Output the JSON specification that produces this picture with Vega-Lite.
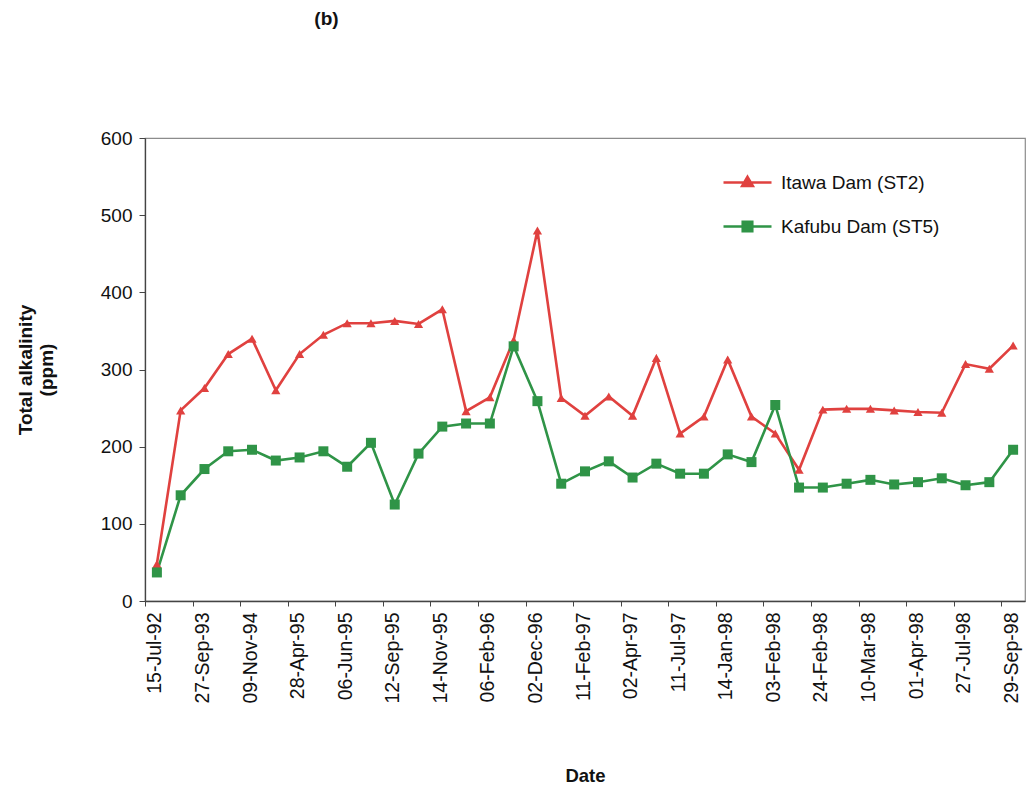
{
  "$schema": "https://vega.github.io/schema/vega-lite/v6.json",
  "width": 880,
  "height": 463,
  "autosize": {"type": "none"},
  "padding": {"left": 145, "top": 138, "right": 2, "bottom": 190},
  "background": "white",
  "config": {
    "font": "Liberation Sans",
    "view": {"stroke": "#8c8c8c", "strokeWidth": 1.2}
  },
  "title": {
    "text": "(b)",
    "anchor": "start",
    "dx": 298,
    "offset": 100,
    "fontSize": 19,
    "fontWeight": "bold",
    "color": "#111111"
  },
  "data": {
    "values": [
      {"Date": "15-Jul-92", "Site": "Itawa Dam (ST2)", "Alkalinity": 48},
      {"Date": "18-Mar-93", "Site": "Itawa Dam (ST2)", "Alkalinity": 247},
      {"Date": "27-Sep-93", "Site": "Itawa Dam (ST2)", "Alkalinity": 276},
      {"Date": "25-Jan-95", "Site": "Itawa Dam (ST2)", "Alkalinity": 320},
      {"Date": "09-Nov-94", "Site": "Itawa Dam (ST2)", "Alkalinity": 340},
      {"Date": "17-May-95", "Site": "Itawa Dam (ST2)", "Alkalinity": 273},
      {"Date": "28-Apr-95", "Site": "Itawa Dam (ST2)", "Alkalinity": 320},
      {"Date": "26-Jul-95", "Site": "Itawa Dam (ST2)", "Alkalinity": 345},
      {"Date": "06-Jun-95", "Site": "Itawa Dam (ST2)", "Alkalinity": 360},
      {"Date": "17-Oct-95", "Site": "Itawa Dam (ST2)", "Alkalinity": 360},
      {"Date": "12-Sep-95", "Site": "Itawa Dam (ST2)", "Alkalinity": 363},
      {"Date": "12-Dec-95", "Site": "Itawa Dam (ST2)", "Alkalinity": 359},
      {"Date": "14-Nov-95", "Site": "Itawa Dam (ST2)", "Alkalinity": 378},
      {"Date": "09-Jan-96", "Site": "Itawa Dam (ST2)", "Alkalinity": 246},
      {"Date": "06-Feb-96", "Site": "Itawa Dam (ST2)", "Alkalinity": 264},
      {"Date": "27-Aug-96", "Site": "Itawa Dam (ST2)", "Alkalinity": 338},
      {"Date": "02-Dec-96", "Site": "Itawa Dam (ST2)", "Alkalinity": 480},
      {"Date": "14-Jan-97", "Site": "Itawa Dam (ST2)", "Alkalinity": 263},
      {"Date": "11-Feb-97", "Site": "Itawa Dam (ST2)", "Alkalinity": 240},
      {"Date": "11-Mar-97", "Site": "Itawa Dam (ST2)", "Alkalinity": 265},
      {"Date": "02-Apr-97", "Site": "Itawa Dam (ST2)", "Alkalinity": 240},
      {"Date": "05-Jun-97", "Site": "Itawa Dam (ST2)", "Alkalinity": 315},
      {"Date": "11-Jul-97", "Site": "Itawa Dam (ST2)", "Alkalinity": 217},
      {"Date": "16-Oct-97", "Site": "Itawa Dam (ST2)", "Alkalinity": 239},
      {"Date": "14-Jan-98", "Site": "Itawa Dam (ST2)", "Alkalinity": 313},
      {"Date": "27-Jan-98", "Site": "Itawa Dam (ST2)", "Alkalinity": 239},
      {"Date": "03-Feb-98", "Site": "Itawa Dam (ST2)", "Alkalinity": 217},
      {"Date": "10-Feb-98", "Site": "Itawa Dam (ST2)", "Alkalinity": 170},
      {"Date": "24-Feb-98", "Site": "Itawa Dam (ST2)", "Alkalinity": 248},
      {"Date": "03-Mar-98", "Site": "Itawa Dam (ST2)", "Alkalinity": 249},
      {"Date": "10-Mar-98", "Site": "Itawa Dam (ST2)", "Alkalinity": 249},
      {"Date": "18-Mar-98", "Site": "Itawa Dam (ST2)", "Alkalinity": 247},
      {"Date": "01-Apr-98", "Site": "Itawa Dam (ST2)", "Alkalinity": 245},
      {"Date": "28-May-98", "Site": "Itawa Dam (ST2)", "Alkalinity": 244},
      {"Date": "27-Jul-98", "Site": "Itawa Dam (ST2)", "Alkalinity": 307},
      {"Date": "26-Aug-98", "Site": "Itawa Dam (ST2)", "Alkalinity": 301},
      {"Date": "29-Sep-98", "Site": "Itawa Dam (ST2)", "Alkalinity": 331},
      {"Date": "15-Jul-92", "Site": "Kafubu Dam (ST5)", "Alkalinity": 37},
      {"Date": "18-Mar-93", "Site": "Kafubu Dam (ST5)", "Alkalinity": 137},
      {"Date": "27-Sep-93", "Site": "Kafubu Dam (ST5)", "Alkalinity": 171},
      {"Date": "25-Jan-95", "Site": "Kafubu Dam (ST5)", "Alkalinity": 194},
      {"Date": "09-Nov-94", "Site": "Kafubu Dam (ST5)", "Alkalinity": 196},
      {"Date": "17-May-95", "Site": "Kafubu Dam (ST5)", "Alkalinity": 182},
      {"Date": "28-Apr-95", "Site": "Kafubu Dam (ST5)", "Alkalinity": 186},
      {"Date": "26-Jul-95", "Site": "Kafubu Dam (ST5)", "Alkalinity": 194},
      {"Date": "06-Jun-95", "Site": "Kafubu Dam (ST5)", "Alkalinity": 174},
      {"Date": "17-Oct-95", "Site": "Kafubu Dam (ST5)", "Alkalinity": 205},
      {"Date": "12-Sep-95", "Site": "Kafubu Dam (ST5)", "Alkalinity": 125},
      {"Date": "12-Dec-95", "Site": "Kafubu Dam (ST5)", "Alkalinity": 191},
      {"Date": "14-Nov-95", "Site": "Kafubu Dam (ST5)", "Alkalinity": 226},
      {"Date": "09-Jan-96", "Site": "Kafubu Dam (ST5)", "Alkalinity": 230},
      {"Date": "06-Feb-96", "Site": "Kafubu Dam (ST5)", "Alkalinity": 230},
      {"Date": "27-Aug-96", "Site": "Kafubu Dam (ST5)", "Alkalinity": 330},
      {"Date": "02-Dec-96", "Site": "Kafubu Dam (ST5)", "Alkalinity": 259},
      {"Date": "14-Jan-97", "Site": "Kafubu Dam (ST5)", "Alkalinity": 152},
      {"Date": "11-Feb-97", "Site": "Kafubu Dam (ST5)", "Alkalinity": 168},
      {"Date": "11-Mar-97", "Site": "Kafubu Dam (ST5)", "Alkalinity": 181},
      {"Date": "02-Apr-97", "Site": "Kafubu Dam (ST5)", "Alkalinity": 160},
      {"Date": "05-Jun-97", "Site": "Kafubu Dam (ST5)", "Alkalinity": 178},
      {"Date": "11-Jul-97", "Site": "Kafubu Dam (ST5)", "Alkalinity": 165},
      {"Date": "16-Oct-97", "Site": "Kafubu Dam (ST5)", "Alkalinity": 165},
      {"Date": "14-Jan-98", "Site": "Kafubu Dam (ST5)", "Alkalinity": 190},
      {"Date": "27-Jan-98", "Site": "Kafubu Dam (ST5)", "Alkalinity": 180},
      {"Date": "03-Feb-98", "Site": "Kafubu Dam (ST5)", "Alkalinity": 254},
      {"Date": "10-Feb-98", "Site": "Kafubu Dam (ST5)", "Alkalinity": 147},
      {"Date": "24-Feb-98", "Site": "Kafubu Dam (ST5)", "Alkalinity": 147},
      {"Date": "03-Mar-98", "Site": "Kafubu Dam (ST5)", "Alkalinity": 152},
      {"Date": "10-Mar-98", "Site": "Kafubu Dam (ST5)", "Alkalinity": 157},
      {"Date": "18-Mar-98", "Site": "Kafubu Dam (ST5)", "Alkalinity": 151},
      {"Date": "01-Apr-98", "Site": "Kafubu Dam (ST5)", "Alkalinity": 154},
      {"Date": "28-May-98", "Site": "Kafubu Dam (ST5)", "Alkalinity": 159},
      {"Date": "27-Jul-98", "Site": "Kafubu Dam (ST5)", "Alkalinity": 150},
      {"Date": "26-Aug-98", "Site": "Kafubu Dam (ST5)", "Alkalinity": 154},
      {"Date": "29-Sep-98", "Site": "Kafubu Dam (ST5)", "Alkalinity": 196}
    ]
  },
  "encoding": {
    "x": {
      "field": "Date",
      "type": "ordinal",
      "sort": null,
      "scale": {"type": "point", "padding": 0.5},
      "axis": {
        "values": ["15-Jul-92", "27-Sep-93", "09-Nov-94", "28-Apr-95", "06-Jun-95", "12-Sep-95", "14-Nov-95", "06-Feb-96", "02-Dec-96", "11-Feb-97", "02-Apr-97", "11-Jul-97", "14-Jan-98", "03-Feb-98", "24-Feb-98", "10-Mar-98", "01-Apr-98", "27-Jul-98", "29-Sep-98"],
        "labelAngle": -90,
        "labelFontSize": 19.5,
        "labelColor": "#111111",
        "labelPadding": 6,
        "tickOffset": -11.9,
        "labelOffset": 10,
        "tickSize": 5,
        "tickColor": "#444444",
        "domainColor": "#444444",
        "domainWidth": 1.3,
        "grid": false,
        "title": "Date",
        "titleFontSize": 18.5,
        "titleFontWeight": "bold",
        "titleColor": "#111111",
        "titleY": 165,
        "titleBaseline": "top"
      }
    },
    "y": {
      "field": "Alkalinity",
      "type": "quantitative",
      "scale": {"domain": [0, 600]},
      "axis": {
        "values": [0, 100, 200, 300, 400, 500, 600],
        "labelFontSize": 19,
        "labelColor": "#111111",
        "labelPadding": 7,
        "tickSize": 6,
        "tickColor": "#444444",
        "domainColor": "#444444",
        "domainWidth": 1.3,
        "grid": false,
        "title": ["Total alkalinity", "(ppm)"],
        "titleFontSize": 19,
        "titleFontWeight": "bold",
        "titleColor": "#111111",
        "titlePadding": 44
      }
    },
    "color": {
      "field": "Site",
      "type": "nominal",
      "scale": {
        "domain": ["Itawa Dam (ST2)", "Kafubu Dam (ST5)"],
        "range": ["#e0413f", "#2f9447"]
      },
      "legend": {
        "orient": "none",
        "legendX": 593,
        "legendY": 35,
        "title": null,
        "labelFontSize": 19,
        "labelColor": "#111111",
        "symbolSize": 36,
        "symbolStrokeWidth": 2.5,
        "labelOffset": 24,
        "rowPadding": 23,
        "encode": {
          "symbols": {
            "update": {
              "shape": {"signal": "datum.value == 'Itawa Dam (ST2)' ? 'M-8,0H8M0,-1.9L1.8,1.2L-1.8,1.2Z' : 'M-8,0H8M-1.6,-1.6H1.6V1.6H-1.6Z'"},
              "fill": {"signal": "datum.value == 'Itawa Dam (ST2)' ? '#e0413f' : '#2f9447'"},
              "stroke": {"signal": "datum.value == 'Itawa Dam (ST2)' ? '#e0413f' : '#2f9447'"},
              "strokeWidth": {"value": 2.5},
              "strokeOpacity": {"value": 1},
              "fillOpacity": {"value": 1},
              "opacity": {"value": 1}
            }
          }
        }
      }
    }
  },
  "layer": [
    {"mark": {"type": "line", "strokeWidth": 2.6}},
    {
      "mark": {"type": "point", "filled": true, "opacity": 1},
      "encoding": {
        "shape": {
          "condition": {"test": "datum.Site == 'Itawa Dam (ST2)'", "value": "triangle-up"},
          "value": "square"
        },
        "size": {
          "condition": {"test": "datum.Site == 'Itawa Dam (ST2)'", "value": 85},
          "value": 100
        }
      }
    }
  ]
}
